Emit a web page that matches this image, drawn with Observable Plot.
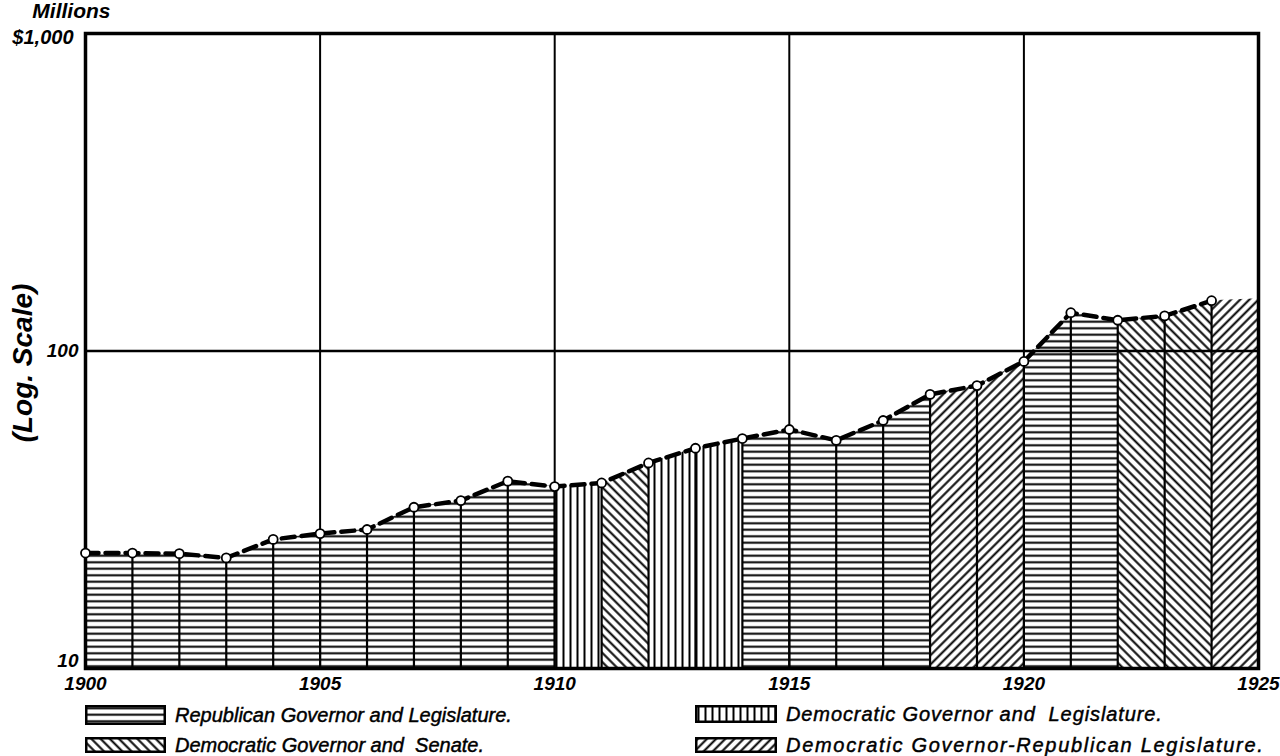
<!DOCTYPE html>
<html><head><meta charset="utf-8">
<script src="https://cdn.jsdelivr.net/npm/d3@7"></script>
<script src="https://cdn.jsdelivr.net/npm/@observablehq/plot@0.6"></script>
<style>
body{margin:0;background:#fff;font-family:"Liberation Sans",Arial,sans-serif;}
#wrap{position:relative;width:1280px;height:756px;overflow:hidden;}
#chart svg{display:block;}
.leg{position:absolute;display:flex;align-items:center;font-style:italic;font-size:20px;color:#000;white-space:pre;-webkit-text-stroke:0.45px #000;}
.leg svg{display:block;margin-right:9px;}
</style></head><body>
<svg width="0" height="0" style="position:absolute">
  <defs>
    <pattern id="pat-r" patternUnits="userSpaceOnUse" width="8" height="6.5">
      <rect width="8" height="6.5" fill="#fff"/>
      <line x1="0" x2="8" y1="3.25" y2="3.25" stroke="#000" stroke-width="2"/>
    </pattern>
    <pattern id="pat-d" patternUnits="userSpaceOnUse" width="7" height="8">
      <rect width="7" height="8" fill="#fff"/>
      <line x1="3.5" x2="3.5" y1="0" y2="8" stroke="#000" stroke-width="2"/>
    </pattern>
    <pattern id="pat-s" patternUnits="userSpaceOnUse" width="6.5" height="6.5" patternTransform="rotate(-45)">
      <rect width="6.5" height="6.5" fill="#fff"/>
      <line x1="3.25" x2="3.25" y1="0" y2="6.5" stroke="#000" stroke-width="2"/>
    </pattern>
    <pattern id="pat-x" patternUnits="userSpaceOnUse" width="6.5" height="6.5" patternTransform="rotate(45)">
      <rect width="6.5" height="6.5" fill="#fff"/>
      <line x1="3.25" x2="3.25" y1="0" y2="6.5" stroke="#000" stroke-width="2"/>
    </pattern>
  </defs>
</svg>
<div id="wrap"><div id="chart"></div></div>
<script>
// ---- data ----
const years = [1900,1901,1902,1903,1904,1905,1906,1907,1908,1909,1910,1911,1912,1913,1914,1915,1916,1917,1918,1919,1920,1921,1922,1923,1924];
const values = [23.1,23.1,23.0,22.3,25.5,26.6,27.4,32.2,33.8,38.9,37.4,38.4,44.4,49.4,53.0,56.6,52.3,60.4,73.0,77.8,92.7,132,125,129,144];
const endYear = 1925;
const endValue = 146;
// regime governing each year's interval (year -> year+1)
const regimeByYear = ["R","R","R","R","R","R","R","R","R","R","D","S","D","D","R","R","R","R","X","X","R","R","S","S","X"];
const regimes = ["R","D","S","X"];
const regimeLabels = [
  "Republican Governor and Legislature.",
  "Democratic Governor and  Legislature.",
  "Democratic Governor and  Senate.",
  "Democratic Governor-Republican Legislature."
];
const regimePatterns = ["url(#pat-r)","url(#pat-d)","url(#pat-s)","url(#pat-x)"];
const xTicks = [1900,1905,1910,1915,1920,1925];
const xGrid = [1905,1910,1915,1920];
const yGrid = [100];
const yTickLabels = [{v:10,label:"10"},{v:100,label:"100"}];
const topLabel = "$1,000";
const unitLabel = "Millions";
const axisTitle = "(Log. Scale)";

// ---- build tables ----
const points = years.map((year,i)=>({year, value: values[i]}));
const allPts = points.concat([{year: endYear, value: endValue}]);
const segRows = [];
let run = -1;
regimeByYear.forEach((r,i)=>{
  if (i === 0 || regimeByYear[i-1] !== r) run++;
  segRows.push({year: allPts[i].year, value: allPts[i].value, regime: r, run});
  segRows.push({year: allPts[i+1].year, value: allPts[i+1].value, regime: r, run});
});
const yearRules = points.slice(1);

const areaMarks = regimes.map((r,k)=>Plot.areaY(segRows.filter(d=>d.regime===r), {
  x: "year", y1: 10, y2: "value", z: "run", fill: regimePatterns[k], stroke: "none"
}));

const plot = Plot.plot({
  width: 1280,
  height: 698,
  marginLeft: 85,
  marginRight: 22,
  marginTop: 33,
  marginBottom: 30,
  style: {fontFamily: '"Liberation Sans", Arial, sans-serif', fontStyle: "italic", background: "#fff", color: "#000"},
  x: {domain: [1900, 1925], axis: null},
  y: {type: "log", domain: [10, 1000], axis: null},
  marks: [
    ...areaMarks,
    Plot.ruleX(yearRules, {x: "year", y1: 10, y2: "value", stroke: "#000", strokeWidth: 2.2}),
    Plot.ruleX(xGrid, {stroke: "#000", strokeWidth: 2}),
    Plot.ruleY(yGrid, {stroke: "#000", strokeWidth: 2.5}),
    Plot.frame({stroke: "#000", strokeWidth: 3.5}),
    Plot.line(points, {x: "year", y: "value", stroke: "#000", strokeWidth: 4.5, strokeDasharray: "13,7"}),
    Plot.dot(points, {x: "year", y: "value", r: 4.5, fill: "#fff", stroke: "#000", strokeWidth: 1.8}),
    Plot.axisX({ticks: xTicks, tickFormat: d => String(d), tickSize: 0, tickPadding: 8, fontSize: 19, fontWeight: "bold", label: null}),
    Plot.text(yTickLabels.filter(d=>d.v===100), {y: "v", text: "label", frameAnchor: "left", textAnchor: "end", dx: -7, fontSize: 19, fontWeight: "bold"}),
    Plot.text(yTickLabels.filter(d=>d.v===10), {y: "v", text: "label", frameAnchor: "left", textAnchor: "end", dx: -7, dy: -8, fontSize: 19, fontWeight: "bold"}),
    Plot.text([topLabel], {frameAnchor: "top-left", textAnchor: "end", lineAnchor: "top", dx: -12, dy: -4, fontSize: 20, fontWeight: "bold"}),
    Plot.text([unitLabel], {frameAnchor: "top-left", textAnchor: "end", lineAnchor: "top", dx: 25, dy: -30, fontSize: 21, fontWeight: "bold"}),
    Plot.text([axisTitle], {frameAnchor: "left", textAnchor: "middle", dx: -62, dy: 12, rotate: -90, fontSize: 28, fontWeight: "bold"})
  ]
});
document.getElementById("chart").appendChild(plot);

// ---- legend ----
const legPos = [
  {left: 85, top: 705, w: 81, h: 20, ls: 0},
  {left: 695, top: 705, w: 82, h: 18, ls: 0.9},
  {left: 85, top: 737, w: 81, h: 16, ls: 0},
  {left: 695, top: 737, w: 82, h: 16, ls: 1.7}
];
const wrap = document.getElementById("wrap");
regimes.forEach((r,k)=>{
  const p = legPos[k];
  const div = document.createElement("div");
  div.className = "leg";
  div.style.left = p.left + "px";
  div.style.top = (p.top + p.h/2 - 12) + "px";
  div.style.height = "24px";
  div.style.letterSpacing = p.ls + "px";
  div.innerHTML = `<svg width="${p.w}" height="${p.h}"><rect x="1.25" y="1.25" width="${p.w-2.5}" height="${p.h-2.5}" fill="${regimePatterns[k]}" stroke="#000" stroke-width="2.5"/></svg><span>${regimeLabels[k]}</span>`;
  wrap.appendChild(div);
});
</script>
</body></html>
